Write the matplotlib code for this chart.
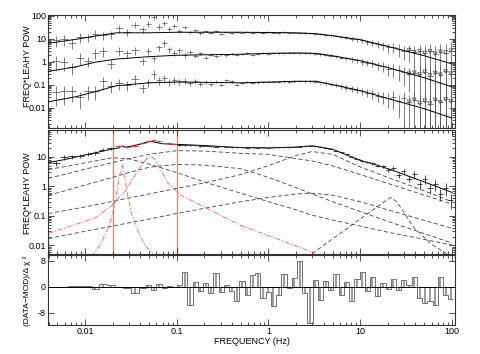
import numpy as np
import matplotlib
matplotlib.use("Agg")
import matplotlib.pyplot as plt

plt.rcParams['font.family'] = ['Liberation Sans', 'DejaVu Sans']

# frequency bins (Hz), shared by all spectra
freq = [0.0048, 0.0059, 0.0072, 0.0088, 0.0107, 0.013, 0.0159, 0.0194, 0.0237, 0.0289, 0.0352, 0.043,
        0.049, 0.056, 0.064, 0.073, 0.083, 0.094, 0.107, 0.122, 0.139, 0.159,
        0.181, 0.206, 0.235, 0.268, 0.305, 0.348, 0.397, 0.452, 0.516, 0.588,
        0.670, 0.764, 0.871, 0.993, 1.13, 1.29, 1.47, 1.68, 1.91, 2.18,
        2.48, 2.83, 3.23, 3.68, 4.19, 4.78, 5.45, 6.21, 7.08, 8.07,
        9.2, 10.5, 12.0, 13.6, 15.5, 17.7, 20.2, 23.0, 26.2, 29.9,
        34.1, 38.8, 44.3, 50.5, 57.5, 65.6, 74.8, 85.2, 97.2]

# top panel: three spectra (offset)
pow_top = [8.5, 9.4, 6.7, 11.8, 11.5, 16.4, 14.4, 15.4, 28, 19, 40, 26,
           44, 85, 33, 48, 27, 36, 22, 31, 19, 24,
           17, 22, 18, 21, 16.5, 20, 18, 19.5, 18.5, 20.5,
           18, 19, 17.5, 19, 18.5, 18, 19.5, 18, 18.5, 17.5,
           18, 17, 16.5, 16, 14.5, 14, 13, 12, 11, 10,
           9.3, 8.5, 7.2, 6.8, 5.8, 5.2, 4.2, 4.5, 3.6, 3.0,
           3.2, 2.6, 2.9, 2.4, 2.8, 2.2, 2.7, 2.5, 3.0]
pow_mid = [1.1, 1.0, 0.57, 1.5, 1.1, 2.5, 3.0, 0.8, 3.0, 2.4, 3.2, 1.1,
           2.9, 1.4, 4.2, 6.5, 3.5, 2.5, 3.2, 1.9, 2.6, 1.8,
           2.3, 1.5, 2.0, 1.7, 2.1, 1.9, 2.2, 2.0, 2.1, 2.3,
           2.0, 2.2, 2.4, 2.2, 2.4, 2.3, 2.5, 2.4, 2.3, 2.5,
           2.4, 2.3, 2.2, 2.1, 2.0, 1.8, 1.7, 1.5, 1.4, 1.25,
           1.15, 1.0, 0.9, 0.85, 0.7, 0.65, 0.5, 0.5, 0.42, 0.35,
           0.3, 0.33, 0.28, 0.36, 0.25, 0.32, 0.27, 0.38, 0.3]
pow_low = [0.048, 0.052, 0.052, 0.028, 0.053, 0.055, 0.14, 0.09, 0.12, 0.1, 0.18, 0.075,
           0.13, 0.3, 0.16, 0.19, 0.13, 0.16, 0.14, 0.15, 0.12, 0.14,
           0.11, 0.13, 0.105, 0.135, 0.1, 0.16, 0.14, 0.1, 0.12, 0.13,
           0.12, 0.125, 0.13, 0.128, 0.135, 0.13, 0.14, 0.135, 0.14, 0.142,
           0.138, 0.14, 0.135, 0.13, 0.12, 0.105, 0.095, 0.085, 0.075, 0.066,
           0.06, 0.052, 0.045, 0.042, 0.033, 0.03, 0.026, 0.03, 0.02, 0.025,
           0.018, 0.022, 0.016, 0.02, 0.015, 0.022, 0.017, 0.023, 0.019]
rel_err = [0.5, 0.5, 0.45, 0.45, 0.4, 0.4, 0.38, 0.35, 0.35, 0.33, 0.3, 0.3,
           0.28, 0.27, 0.26, 0.25, 0.24, 0.22, 0.2, 0.18, 0.17, 0.15,
           0.14, 0.13, 0.12, 0.11, 0.1, 0.1, 0.09, 0.09, 0.08, 0.08,
           0.08, 0.08, 0.08, 0.08, 0.08, 0.08, 0.08, 0.08, 0.08, 0.08,
           0.09, 0.09, 0.1, 0.1, 0.11, 0.12, 0.13, 0.14, 0.16, 0.18,
           0.2, 0.22, 0.25, 0.28, 0.32, 0.36, 0.42, 0.48, 0.55, 0.62,
           0.7, 0.78, 0.86, 0.95, 1.05, 1.15, 1.25, 1.35, 1.45]
err_scale = [1.0, 1.2, 1.5]

# top panel models
mod_f = [0.004, 0.008, 0.013, 0.022, 0.05, 0.1, 0.5, 1, 2, 3.3, 5, 10, 20, 50, 100]
mod_top = [6.3, 9.4, 13, 18, 18, 19, 19, 18.5, 18, 16.5, 13.5, 9, 4.6, 1.8, 0.8]
mod_mid = [0.38, 0.6, 0.95, 1.3, 1.65, 1.9, 2.1, 2.3, 2.4, 2.3, 1.8, 1.1, 0.55, 0.2, 0.08]
mod_low = [0.018, 0.03, 0.05, 0.09, 0.12, 0.13, 0.12, 0.13, 0.14, 0.14, 0.1, 0.055, 0.025, 0.009, 0.0035]

# middle panel: summed spectrum and its fit
pow_sum = [6.0, 9.5, 10.2, 10.5, 12.5, 13.5, 17.5, 19.5, 22.5, 22, 23.5, 29,
           34, 36, 33, 30, 28, 26.5, 25.5, 25, 24.5, 24,
           23, 23.5, 22.5, 22, 22.5, 21.5, 21, 20.5, 20.5, 20,
           20.5, 20, 20.5, 20, 20.5, 20.5, 21, 21, 21.5, 22,
           22.5, 23, 22.5, 21.5, 20, 18.5, 16, 14, 12, 10,
           8.5, 7.2, 6.5, 5.9, 5.0, 4.8, 3.5, 4.0, 2.4, 3.2,
           1.8, 2.5, 1.2, 1.8, 0.9, 1.2, 0.55, 0.9, 0.35]
resid = [0.0, 0.0, 0.3, 0.3, 0.3, -0.6, 0.7, 0.5, -0.2, -0.3, -2.0, -0.5,
         0.6, -0.9, 0.8, -0.5, 0.3, -0.2, 0.4, 4.6, -5.6, 1.5,
         -1.4, 1.0, -1.8, 4.2, -1.5, 0.5, -1.2, -4.5, 1.8, -2.5,
         3.6, 4.2, -3.5, -1.5, -6.0, -2.5, 3.8, -0.5, 2.8, 7.8,
         -2.0, -11.2, 2.0, -4.0, 1.8, -1.0, 4.0, -2.5, 1.5, -4.5,
         2.5, 4.5, -1.2, 3.0, -2.8, 1.0, -0.8, 2.5, -1.0, 2.0,
         0.5, 3.0, -3.5, -5.0, -4.5, -5.5, 3.0, -2.5, -3.8]

tot_f = [0.004, 0.006, 0.01, 0.015, 0.02, 0.023, 0.0254, 0.028, 0.032, 0.04, 0.047, 0.052, 0.058,
         0.068, 0.085, 0.1, 0.15, 0.2, 0.3, 0.5, 1, 2, 3, 5, 10, 15, 20, 21.6, 25, 30, 50, 100]
tot_v = [6.3, 8.0, 11.4, 15.0, 18.3, 19.8, 23.0, 20.9, 22.6, 26.5, 31.0, 33.0, 31.0,
         27.7, 26.6, 26.1, 24.8, 23.8, 22.2, 20.3, 19.8, 21.2, 23.4, 17.8, 7.5, 5.25, 3.9, 3.66, 3.1, 2.5, 1.4, 0.62]

comp_f = [0.004, 0.006, 0.01, 0.02, 0.03, 0.05, 0.1, 0.2, 0.5, 1, 2, 3, 5, 10, 20, 50, 100]
comp_a = [3.7, 4.6, 6.2, 9.2, 8.5, 5.6, 2.9, 1.4, 0.58, 0.3, 0.16, 0.105, 0.072, 0.045, 0.028, 0.016, 0.0104]
comp_b = [1.9, 2.5, 3.8, 6.3, 8.6, 12.0, 16.0, 15.5, 13.0, 12.0, 8.6, 7.2, 4.9, 2.5, 1.25, 0.5, 0.25]
comp_c = [0.5, 0.7, 1.1, 2.0, 2.9, 4.4, 5.5, 5.2, 3.9, 2.0, 0.9, 0.55, 0.3, 0.14, 0.065, 0.025, 0.012]
comp_d = [0.12, 0.15, 0.2, 0.31, 0.4, 0.55, 0.85, 1.3, 2.5, 5.0, 11.0, 15.0, 12.0, 4.5, 2.0, 0.7, 0.3]
comp_e = [0.017, 0.022, 0.03, 0.045, 0.058, 0.078, 0.12, 0.18, 0.3, 0.42, 0.55, 0.58, 0.5, 0.3, 0.16, 0.07, 0.038]

# narrow QPO components
qpo1_f = [0.01183, 0.01456, 0.0179, 0.02032, 0.0221, 0.02342, 0.02546, 0.0272, 0.0291, 0.0316, 0.0365, 0.0449, 0.0577]
qpo1_v = [0.0042, 0.0103, 0.038, 0.141, 0.52, 1.9, 5.1, 1.9, 0.52, 0.141, 0.038, 0.0103, 0.0042]
qpo2_f = [0.004, 0.01285, 0.0195, 0.0272, 0.0336, 0.0413, 0.047, 0.0522, 0.058, 0.0682, 0.0804, 0.108, 0.48, 3.2]
qpo2_v = [0.0257, 0.084, 0.22, 0.67, 1.9, 5.3, 8.5, 10.3, 8.0, 3.2, 1.28, 0.52, 0.05, 0.0055]
qpo3_f = [3.0, 6.0, 10.0, 14.0, 18.0, 21.6, 25.0, 30.0, 38.8, 60.0, 97.0]
qpo3_v = [0.0053, 0.025, 0.079, 0.166, 0.29, 0.42, 0.3, 0.13, 0.038, 0.011, 0.0042]

band = [0.02, 0.1]

f = np.array(freq)
mids = np.sqrt(f[:-1] * f[1:])
left = np.r_[f[0] ** 2 / mids[0], mids]
right = np.r_[mids, f[-1] ** 2 / mids[-1]]
xerr = [f - left, right - f]
rel = np.array(rel_err)

fig = plt.figure(figsize=(4.8, 3.54), dpi=100)
ax1 = fig.add_axes([0.1, 0.6384, 0.848, 0.3192])
ax2 = fig.add_axes([0.1, 0.2816, 0.848, 0.3512])
ax3 = fig.add_axes([0.1, 0.0819, 0.848, 0.1978])

for ax in (ax1, ax2, ax3):
    ax.set_xscale('log')
    ax.set_xlim(0.00395, 108)
    ax.tick_params(which='both', direction='in', top=True, right=True,
                   labelsize=6.5, width=0.6, color='0.2', pad=1.5)
    ax.tick_params(which='major', length=4.5)
    ax.tick_params(which='minor', length=2.3)
    for sp in ax.spines.values():
        sp.set_linewidth(0.8)
        sp.set_color('0.2')
    ax.set_xticks([0.01, 0.1, 1, 10, 100])

# top panel
ax1.set_yscale('log')
ax1.set_ylim(0.0013, 107)
hi = f > 30
for vals, scale in zip([pow_top, pow_mid, pow_low], err_scale):
    v = np.array(vals)
    ax1.errorbar(f, v, xerr=xerr, yerr=rel * scale * v, fmt='none',
                 ecolor='0.35', elinewidth=0.55, capsize=0)
    ax1.scatter(f[hi], v[hi], marker='v', s=7, facecolors='none',
                edgecolors='0.3', linewidths=0.5, zorder=3)
for m in (mod_top, mod_mid, mod_low):
    ax1.plot(mod_f, m, color='k', lw=0.7, zorder=4)
ax1.set_yticks([0.01, 0.1, 1, 10, 100])
ax1.set_yticklabels(['0.01', '0.1', '1', '10', '100'])
ax1.set_xticklabels([])

# middle panel
ax2.set_yscale('log')
ax2.set_ylim(0.005, 80)
for fr in band:
    ax2.axvline(fr, color='#ff7a7a', lw=1.0, zorder=1)
for comp in (comp_a, comp_b, comp_c, comp_d, comp_e):
    ax2.plot(comp_f, comp, color='0.25', lw=0.6, dashes=(5, 3))
ax2.plot(qpo3_f, qpo3_v, color='0.25', lw=0.6, dashes=(5, 3))
for qf, qv in ((qpo1_f, qpo1_v), (qpo2_f, qpo2_v)):
    ax2.plot(qf, qv, color='#ff5a5a', lw=0.6, dashes=(6, 2, 1.5, 2))
ax2.plot(tot_f, tot_v, color='k', lw=0.7, zorder=3)
v = np.array(pow_sum)
inband = (f >= band[0]) & (f <= band[1])
for sel, col in ((~inband, '0.15'), (inband, '#e03a3a')):
    ax2.errorbar(f[sel], v[sel], xerr=[xerr[0][sel], xerr[1][sel]],
                 yerr=rel[sel] * 0.35 * v[sel], fmt='none', ecolor=col,
                 elinewidth=0.6, capsize=0, zorder=4)
ax2.set_yticks([0.01, 0.1, 1, 10])
ax2.set_yticklabels(['0.01', '0.1', '1', '10'])
ax2.set_xticklabels([])

# residuals
edges = np.r_[left[0], mids, right[-1]]
ax3.set_ylim(-11.7, 9.7)
ax3.vlines(f, 0, resid, color='0.5', lw=1.1)
ax3.stairs(resid, edges, baseline=None, color='0.35', lw=0.6)
ax3.axhline(0, color='k', lw=0.7)
ax3.set_yticks([-8, 0, 8])
ax3.set_yticklabels(['-8', '0', '8'])
ax3.set_xticklabels(['0.01', '0.1', '1', '10', '100'])

fig.text(0.058, 1 - 66 / 354, 'FREQ*LEAHY POW', rotation=90, fontsize=6.5,
         ha='center', va='center')
fig.text(0.058, 1 - 193 / 354, 'FREQ*LEAHY POW', rotation=90, fontsize=6.5,
         ha='center', va='center')
fig.text(0.056, 1 - 291 / 354, '(DATA−MOD)/Δ χ ²', rotation=90, fontsize=6.0,
         ha='center', va='center')
fig.text(0.525, 1 - 341 / 354, 'FREQUENCY (Hz)', fontsize=6.5,
         ha='center', va='center')

fig.savefig('out.png', dpi=100)
